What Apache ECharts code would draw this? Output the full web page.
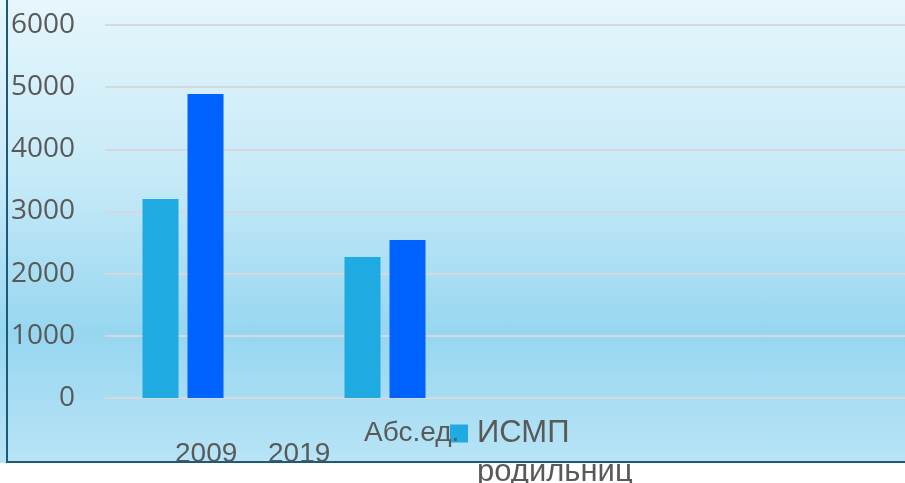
<!DOCTYPE html>
<html>
<head>
<meta charset="utf-8">
<script src="https://cdn.jsdelivr.net/npm/echarts@6/dist/echarts.min.js"></script>
<style>
  html, body { margin: 0; padding: 0; background: #ffffff; }
  #wrap { position: relative; width: 905px; height: 483px; overflow: hidden; }
  #bg { position: absolute; left: 0; top: 0; width: 905px; height: 463px;
        background: linear-gradient(to bottom, #e6f6fc 0%, #c4e9f7 40%, #97d6f0 72%, #b8e4f6 100%); }
  #chart { position: absolute; left: 0; top: 0; width: 905px; height: 483px; }
  #frame { position: absolute; left: 6px; top: 0; width: 899px; height: 461px;
           border-left: 2px solid #1c5a76; border-bottom: 2px solid #1c5a76;
           pointer-events: none; z-index: 5; }
</style>
</head>
<body>
<div id="wrap">
  <div id="bg"></div>
  <div id="chart"></div>
  <div id="frame"></div>
</div>
<script>
// ---- data ----
const categories = ['g1', 'g2', 'g3', 'g4'];
const seriesA = [3200, 2270, null, null];   // ИСМП родильниц
const seriesB = [4890, 2540, null, null];
const seriesAName = 'ИСМП родильниц';
const yTicks = [0, 1000, 2000, 3000, 4000, 5000, 6000];
const yearLabels = ['2009', '2019'];
const unitLabel = 'Абс.ед.';

const chart = echarts.init(document.getElementById('chart'), null, { renderer: 'canvas' });

const option = {
  animation: false,
  backgroundColor: 'transparent',
  grid: [
    { left: 82, right: 15, top: 25, bottom: 85 },
    { left: 105, right: 0, top: 25, bottom: 85 }
  ],
  xAxis: [
    { type: 'category', gridIndex: 0, data: categories,
      axisLine: { show: false }, axisTick: { show: false }, axisLabel: { show: false } },
    { type: 'category', gridIndex: 1, data: categories,
      axisLine: { show: false }, axisTick: { show: false }, axisLabel: { show: false } }
  ],
  yAxis: [
    { type: 'value', gridIndex: 0, min: yTicks[0], max: yTicks[yTicks.length - 1], interval: 1000,
      axisLine: { show: false }, axisTick: { show: false }, axisLabel: { show: false },
      splitLine: { show: false } },
    { type: 'value', gridIndex: 1, min: yTicks[0], max: yTicks[yTicks.length - 1], interval: 1000,
      axisLine: { show: false }, axisTick: { show: false },
      axisLabel: { margin: 30, color: '#595959', fontSize: 28, fontFamily: 'Open Sans',
                   formatter: function (v) { return String(v); } },
      splitLine: { lineStyle: { color: '#d6d9dc', width: 2 } } }
  ],
  legend: {
    data: [seriesAName],
    left: 450, top: 375, padding: 0,
    itemWidth: 18, itemHeight: 18, icon: 'rect',
    formatter: function () { return '\nИСМП\nродильниц'; },
    textStyle: { color: '#595959', fontSize: 31, fontFamily: 'Liberation Sans',
                 lineHeight: 39, padding: [0, 0, 0, 4] }
  },
  series: [
    { name: seriesAName, type: 'bar', xAxisIndex: 0, yAxisIndex: 0, data: seriesA,
      barWidth: 36, barGap: '25%', itemStyle: { color: '#1faae2' }, z: 3 },
    { type: 'bar', xAxisIndex: 0, yAxisIndex: 0, data: seriesB,
      barWidth: 36, barGap: '25%', itemStyle: { color: '#0062ff' }, z: 3 }
  ],
  graphic: [
    { type: 'text', left: 175, top: 440, z: 10,
      style: { text: yearLabels[0], fill: '#595959', font: '28px "Liberation Sans"' } },
    { type: 'text', left: 268, top: 440, z: 10,
      style: { text: yearLabels[1], fill: '#595959', font: '28px "Liberation Sans"' } },
    { type: 'text', left: 364, top: 419, z: 10,
      style: { text: unitLabel, fill: '#595959', font: '28px "Liberation Sans"' } }
  ]
};
chart.setOption(option);
</script>
</body>
</html>
